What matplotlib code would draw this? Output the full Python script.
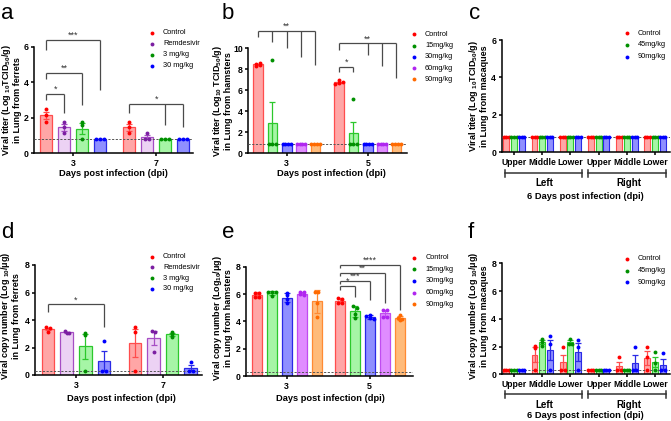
import numpy as np
import matplotlib
matplotlib.use("Agg")
import matplotlib.pyplot as plt
from matplotlib.lines import Line2D
from matplotlib.transforms import blended_transform_factory

plt.rcParams['font.family'] = ['Liberation Sans', 'DejaVu Sans']
plt.rcParams['mathtext.fontset'] = 'custom'
plt.rcParams['mathtext.rm'] = 'Liberation Sans:bold'
plt.rcParams['mathtext.it'] = 'Liberation Sans:bold'
plt.rcParams['mathtext.bf'] = 'Liberation Sans:bold'
plt.rcParams['mathtext.default'] = 'rm'

# ---------------- data ----------------
# a: ferrets, viral titer, days 3 and 7
a_groups = ["Control", "Remdesivir", "3 mg/kg", "30 mg/kg"]
a_days = ["3", "7"]
a_day3 = [[2.49, 2.15, 1.78], [1.78, 1.46, 1.12], [1.78, 1.6, 0.8], [0.8, 0.8, 0.8]]
a_day7 = [[1.78, 1.46, 1.12], [1.12, 0.8, 0.8], [0.8, 0.8, 0.8], [0.8, 0.8, 0.8]]
a_lod = 0.8

# b: hamsters, viral titer, days 3 and 5
b_groups = ["Control", "15mg/kg", "30mg/kg", "60mg/kg", "90mg/kg"]
b_days = ["3", "5"]
b_day3 = [[8.35, 8.45, 8.55, 8.6], [8.9, 0.85, 0.85, 0.85], [0.85, 0.85, 0.85, 0.85],
          [0.85, 0.85, 0.85, 0.85], [0.85, 0.85, 0.85, 0.85]]
b_day5 = [[6.6, 6.7, 6.8, 6.95], [5.15, 0.85, 0.85, 0.85], [0.85, 0.85, 0.85, 0.85],
          [0.85, 0.85, 0.85, 0.85], [0.85, 0.85, 0.85, 0.85]]
b_lod = 0.85

# c: macaques, viral titer, lobes
lobes = ["Upper", "Middle", "Lower", "Upper", "Middle", "Lower"]
c_groups = ["Control", "45mg/kg", "90mg/kg"]
c_control = [[0.83, 0.83, 0.83], [0.83, 0.83, 0.83], [0.83, 0.83, 0.83],
             [0.83, 0.83, 0.83], [0.83, 0.83, 0.83], [0.83, 0.83, 0.83]]
c_45 = [[0.83, 0.83, 0.83], [0.83, 0.83, 0.83], [0.83, 0.83, 0.83],
        [0.83, 0.83, 0.83], [0.83, 0.83, 0.83], [0.83, 0.83, 0.83]]
c_90 = [[0.83, 0.83, 0.83], [0.83, 0.83, 0.83], [0.83, 0.83, 0.83],
        [0.83, 0.83, 0.83], [0.83, 0.83, 0.83], [0.83, 0.83, 0.83]]
c_lod = 0.83

# d: ferrets, copy number
d_day3 = [[3.47, 3.15, 3.39], [3.2, 3.03, 3.08], [3.08, 2.9, 0.3], [2.5, 0.3, 0.3]]
d_day7 = [[3.47, 3.15, 0.3], [3.2, 3.15, 1.65], [3.1, 3.0, 2.75], [0.92, 0.3, 0.3]]
d_lod = 0.3

# e: hamsters, copy number
e_day3 = [[6.1, 6.1, 5.75, 5.75], [6.15, 6.15, 6.15, 5.85], [6.05, 5.93, 5.63, 5.32],
          [6.12, 6.12, 5.98, 5.93], [6.12, 6.12, 5.32, 4.34]]
e_day5 = [[5.7, 5.65, 5.35, 5.35], [5.15, 4.95, 4.55, 4.25], [4.5, 4.4, 4.25, 4.2],
          [4.8, 4.8, 4.35, 4.35], [4.46, 4.22, 4.15, 4.1]]
e_lod = 0.3

# f: macaques, copy number
f_control = [[0.3, 0.3, 0.3], [2.06, 1.87, 0.3], [1.99, 0.3, 0.3],
             [0.3, 0.3, 0.3], [1.22, 0.3, 0.3], [1.99, 1.27, 0.3]]
f_45 = [[0.3, 0.3, 0.3], [2.57, 2.3, 2.06], [2.57, 2.2, 2.16],
        [0.3, 0.3, 0.3], [0.3, 0.3, 0.3], [1.6, 0.8, 0.3]]
f_90 = [[0.3, 0.3, 0.3], [2.76, 2.16, 0.3], [2.47, 1.99, 0.3],
        [0.3, 0.3, 0.3], [1.94, 0.3, 0.3], [1.51, 0.3, 0.3]]
f_lod = 0.3

# significance brackets: (group, first bar, [other bars], line y, left end, [right ends], label)
a_sig = [(0, 0, [1], 3.33, 3.0, [2.25], "*"),
         (0, 0, [2], 4.53, 4.21, [2.72], "**"),
         (0, 0, [3], 6.37, 5.84, [3.56], "***"),
         (1, 0, [2, 3], 2.77, 2.25, [1.6, 1.46], "*")]
b_sig = [(0, 0, [1, 2, 3, 4], 11.65, 11.1, [10.6, 10.0, 9.2, 8.4], "**"),
         (1, 0, [1], 8.25, 7.77, [7.77], "*"),
         (1, 0, [2, 3, 4], 10.48, 9.84, [9.4, 8.3, 7.14], "**")]
d_sig = [(0, 0, [3], 5.14, 4.6, [3.5], "*")]
e_sig = [(1, 0, [1], 6.58, 6.33, [5.8], "*"),
         (1, 0, [2], 6.97, 6.72, [5.56], "***"),
         (1, 0, [3], 7.56, 7.31, [5.32], "**"),
         (1, 0, [4], 8.12, 7.87, [4.83], "****")]

# colours: point, bar face, bar edge
pal = {
    "Control": ("#ff0000", "#ffa6a6", "#ff4d4d"),
    "Remdesivir": ("#7b1fa2", "#ecd2f4", "#a64dc4"),
    "3 mg/kg": ("#009000", "#a6f5a6", "#2cc82c"),
    "30 mg/kg": ("#0000ff", "#8f8fff", "#2a2ae6"),
    "15mg/kg": ("#009000", "#a6f5a6", "#2cc82c"),
    "30mg/kg": ("#0000ff", "#8f8fff", "#2a2ae6"),
    "60mg/kg": ("#b026f0", "#e08cff", "#c04cf0"),
    "90mg/kg": ("#ff6a00", "#ffbb7a", "#ff8a33"),
    "45mg/kg": ("#009000", "#a6f5a6", "#2cc82c"),
}
pal_c = {"Control": pal["Control"], "45mg/kg": pal["45mg/kg"], "90mg/kg": pal["30mg/kg"]}

W, H = 671, 421
fig = plt.figure(figsize=(W / 100, H / 100), dpi=100)


def fx(x):
    return x / W


def fy(y):
    return 1 - y / H


def make_ax(l, t, r, b, xlim, ylim, yticks):
    ax = fig.add_axes([fx(l), fy(b), (r - l) / W, (b - t) / H])
    ax.set_xlim(xlim)
    ax.set_ylim(ylim)
    ax.set_yticks(yticks)
    for s in ["top", "right"]:
        ax.spines[s].set_visible(False)
    for s in ["left", "bottom"]:
        ax.spines[s].set_linewidth(1.1)
    ax.tick_params(length=2.5, width=1.1, pad=1.5, labelsize=6.3)
    for lab in ax.get_yticklabels():
        lab.set_fontweight("bold")
    ax.px = (xlim[1] - xlim[0]) / (r - l)
    return ax


def draw_bars(ax, centers, data_by_group, names, colors, err="sem", width=0.14, lw=0.9):
    ylo, yhi = ax.get_ylim()
    tol = (yhi - ylo) / 30
    for x, vals, name in zip(centers, data_by_group, names):
        pc, fc, ec = colors[name]
        vals = np.array(vals, dtype=float)
        m = vals.mean()
        ax.bar(x, m, width=width, color=fc, edgecolor=ec, linewidth=lw, zorder=2)
        if len(vals) > 1 and vals.std() > 0:
            if err == "sem":
                e = vals.std(ddof=1) / np.sqrt(len(vals))
            else:
                e = vals.std(ddof=1)
            ax.errorbar(x, m, yerr=e, color=ec, capsize=2.2, elinewidth=0.9,
                        capthick=0.9, zorder=3)
        # spread dots that share a height, like a scatter dot plot
        keys = np.round(vals / tol)
        for k in np.unique(keys):
            sel = vals[keys == k]
            n = len(sel)
            sp = 3.8 * ax.px
            if n > 1:
                sp = min(sp, 0.85 * width / (n - 1))
            offs = (np.arange(n) - (n - 1) / 2) * sp
            ax.plot(x + offs, sel, "o", ms=2.8, color=pc, mec="none", zorder=4,
                    clip_on=False)


def lod_line(ax, y):
    ax.axhline(y, color="#555555", lw=0.7, ls=(0, (2.2, 1.6)), zorder=3.5)


def brackets(ax, xpos, sigs):
    c = "#4a4a4a"
    for g, i0, others, y, y0, ys, lab in sigs:
        x0 = xpos[g][i0]
        x1 = xpos[g][others[-1]]
        kw = dict(color=c, lw=0.9, clip_on=False, solid_capstyle="butt", zorder=6)
        ax.plot([x0, x1], [y, y], **kw)
        ax.plot([x0, x0], [y, y0], **kw)
        for j, ye in zip(others, ys):
            ax.plot([xpos[g][j], xpos[g][j]], [y, ye], **kw)
        ax.text((x0 + x1) / 2, y, lab, ha="center", va="bottom", fontsize=6.5,
                color="#333333", clip_on=False)


def legend(x, y0, step, labels, colors):
    for i, lab in enumerate(labels):
        y = y0 + i * step
        fig.add_artist(Line2D([fx(x)], [fy(y)], marker="o", ms=2.8, ls="none",
                              color=colors[lab][0], mec="none",
                              transform=fig.transFigure))
        fig.text(fx(x + 11), fy(y), lab, ha="left", va="center", fontsize=5.3)


def ylabel(xc, yc, txt):
    fig.text(fx(xc), fy(yc), txt, rotation=90, ha="center", va="center",
             fontsize=6.5, fontweight="bold", linespacing=1.1, multialignment="center")


def xlabel(xc, yc, txt):
    fig.text(fx(xc), fy(yc), txt, ha="center", va="center", fontsize=6.7,
             fontweight="bold")


def day_panel(ax, days, day_data, groups, colors, step, width, err="sem"):
    n = len(groups)
    xpos = []
    for g, vals in enumerate(day_data):
        xs = [g + (k - (n - 1) / 2) * step for k in range(n)]
        xpos.append(xs)
        draw_bars(ax, xs, vals, groups, colors, err=err, width=width)
    ax.set_xticks(range(len(days)))
    ax.set_xticklabels(days, fontweight="bold")
    return xpos


def lobe_panel(ax, lobe_data, groups, colors, step, width):
    n = len(groups)
    for i in range(len(lobes)):
        xs = [i + (k - (n - 1) / 2) * step for k in range(n)]
        draw_bars(ax, xs, [d[i] for d in lobe_data], groups, colors, width=width, lw=0.8)
    ax.set_xticks(range(len(lobes)))
    ax.set_xticklabels(lobes, fontweight="bold", fontsize=6.2)


def side_brackets(ax, y_line, y_text):
    tr = blended_transform_factory(ax.transData, fig.transFigure)
    for x0, x1, lab in [(-0.32, 2.4, "Left"), (2.62, 5.4, "Right")]:
        ax.plot([x0, x1], [fy(y_line)] * 2, color="#333333", lw=1.1, transform=tr,
                clip_on=False)
        for xx in (x0, x1):
            ax.plot([xx, xx], [fy(y_line - 3.5), fy(y_line + 3.5)], color="#333333",
                    lw=1.1, transform=tr, clip_on=False)
        ax.text((x0 + x1) / 2 + 0.05, fy(y_text), lab, transform=tr, ha="center",
                va="center", fontsize=7, fontweight="bold")


# ---------------- panel a ----------------
ax = make_ax(34, 46.7, 193, 153.3, (-0.472, 1.443), (0, 6), [0, 2, 4, 6])
xp = day_panel(ax, a_days, [a_day3, a_day7], a_groups, pal, 0.217, 0.145)
lod_line(ax, a_lod)
brackets(ax, xp, a_sig)
legend(152, 33, 10.9, a_groups, pal)
ylabel(11, 100, "Viral titer (Log $_{10}$TCID$_{50}$/g)\nin Lung from ferrets")
xlabel(113, 173.3, "Days post infection (dpi)")

# ---------------- panel b ----------------
ax = make_ax(248.3, 48.3, 406.7, 153.3, (-0.474, 1.481), (0, 10), [0, 2, 4, 6, 8, 10])
xp = day_panel(ax, b_days, [b_day3, b_day5], b_groups, pal, 0.177, 0.12)
lod_line(ax, b_lod)
brackets(ax, xp, b_sig)
legend(414, 34.3, 11.25, b_groups, pal)
ylabel(222, 100.8, "Viral titer (Log$_{10}$ TCID$_{50}$/g)\nin Lung from hamsters")
xlabel(331.7, 173.3, "Days post infection (dpi)")

# ---------------- panel c ----------------
ax = make_ax(501.7, 40, 670, 152.3, (-0.436, 5.53), (0, 6), [0, 2, 4, 6])
lobe_panel(ax, [c_control, c_45, c_90], c_groups, pal_c, 0.273, 0.21)
lod_line(ax, c_lod)
side_brackets(ax, 173.3, 183.5)
legend(626.7, 33.3, 11.7, c_groups, pal_c)
ylabel(478, 96, "Viral titer (Log $_{10}$TCID$_{50}$/g)\nin Lung from macaques")
xlabel(585, 196.7, "6 Days post infection (dpi)")

# ---------------- panel d ----------------
ax = make_ax(35, 265, 201.7, 375, (-0.472, 1.448), (0, 8), [0, 2, 4, 6, 8])
xp = day_panel(ax, a_days, [d_day3, d_day7], a_groups, pal, 0.214, 0.145)
lod_line(ax, d_lod)
brackets(ax, xp, d_sig)
legend(152, 256.7, 10.7, a_groups, pal)
ylabel(10, 316, "Viral copy number (Log $_{10}$/μg)\nin Lung from ferrets")
xlabel(121.7, 398.3, "Days post infection (dpi)")

# ---------------- panel e ----------------
ax = make_ax(246, 266.7, 413.3, 376, (-0.49, 1.525), (0, 8), [0, 2, 4, 6, 8])
xp = day_panel(ax, b_days, [e_day3, e_day5], b_groups, pal, 0.18, 0.12, err="sd")
lod_line(ax, e_lod)
brackets(ax, xp, e_sig)
legend(414.3, 257.7, 11.65, b_groups, pal)
ylabel(222, 318, "Viral copy number (Log$_{10}$/μg)\nin Lung from hamsters")
xlabel(330, 398.3, "Days post infection (dpi)")

# ---------------- panel f ----------------
ax = make_ax(501.7, 263.3, 670, 374.3, (-0.436, 5.53), (0, 8), [0, 2, 4, 6, 8])
lobe_panel(ax, [f_control, f_45, f_90], c_groups, pal_c, 0.273, 0.21)
lod_line(ax, f_lod)
side_brackets(ax, 394.3, 405)
legend(626.7, 259, 11.65, c_groups, pal_c)
ylabel(478, 316, "Viral copy number (Log $_{10}$/μg)\nin Lung from macaques")
xlabel(585, 415.7, "6 Days post infection (dpi)")

# panel letters
for lab, x, y in [("a", 1, 19), ("b", 222, 19), ("c", 469, 19),
                  ("d", 1, 238), ("e", 222, 238), ("f", 468, 238)]:
    fig.text(fx(x), fy(y), lab, fontsize=16, ha="left", va="baseline")

fig.savefig("out.png", dpi=100)
